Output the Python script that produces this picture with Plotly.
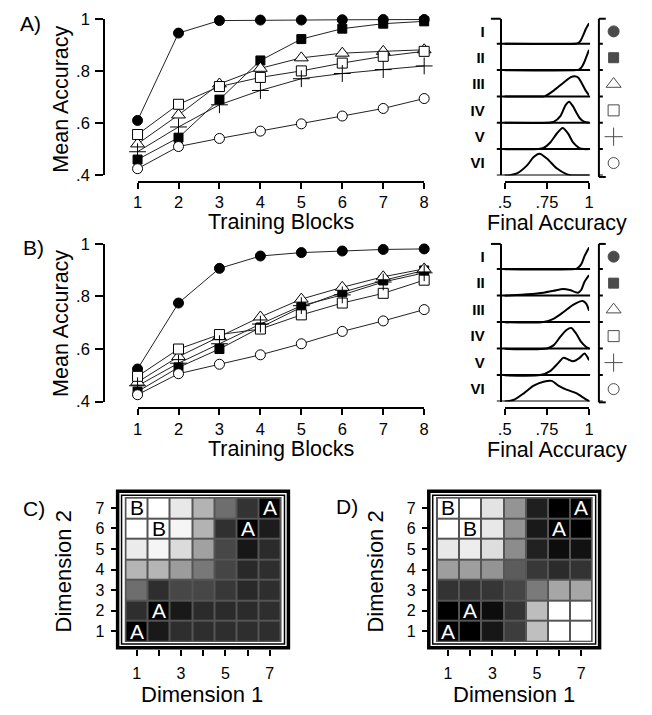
import plotly.graph_objects as go

W, H = 652, 715
def fx(p): return p / W
def fy(p): return 1 - p / H

FONT = "Liberation Sans, Arial, sans-serif"

# ---------------- data ----------------
blocks = [1, 2, 3, 4, 5, 6, 7, 8]
types = ["I", "II", "III", "IV", "V", "VI"]

# Panel A: mean accuracy per training block
accA_I   = [0.61, 0.945, 0.993, 0.995, 0.995, 0.996, 0.997, 0.997]
accA_II  = [0.46, 0.544, 0.69, 0.84, 0.922, 0.962, 0.981, 0.99]
accA_III = [0.52, 0.631, 0.75, 0.81, 0.85, 0.868, 0.875, 0.881]
accA_IV  = [0.556, 0.672, 0.74, 0.775, 0.80, 0.83, 0.856, 0.875]
accA_V   = [0.49, 0.585, 0.67, 0.725, 0.77, 0.79, 0.805, 0.819]
accA_VI  = [0.425, 0.51, 0.541, 0.569, 0.597, 0.627, 0.656, 0.694]

# Panel B
accB_I   = [0.524, 0.775, 0.907, 0.954, 0.967, 0.973, 0.979, 0.981]
accB_II  = [0.438, 0.53, 0.60, 0.682, 0.759, 0.816, 0.861, 0.899]
accB_III = [0.474, 0.571, 0.647, 0.722, 0.79, 0.835, 0.875, 0.905]
accB_IV  = [0.496, 0.60, 0.655, 0.676, 0.73, 0.775, 0.812, 0.862]
accB_V   = [0.46, 0.546, 0.62, 0.695, 0.765, 0.806, 0.855, 0.89]
accB_VI  = [0.426, 0.506, 0.542, 0.578, 0.62, 0.667, 0.707, 0.75]

# Final accuracy densities (x = final accuracy, h = relative density height)
dA_I_x   = [0.455, 0.92, 0.935, 0.95, 0.965, 0.98, 1.0]
dA_I_h   = [0, 0, 0.02, 0.12, 0.32, 0.55, 0.78]
dA_II_x  = [0.455, 0.925, 0.94, 0.955, 0.97, 0.985, 1.0]
dA_II_h  = [0, 0, 0.02, 0.1, 0.28, 0.52, 0.77]
dA_III_x = [0.455, 0.72, 0.74, 0.79, 0.85, 0.895, 0.915, 0.935, 0.955, 0.98, 1.0]
dA_III_h = [0, 0, 0.01, 0.22, 0.53, 0.74, 0.77, 0.72, 0.52, 0.22, 0.04]
dA_IV_x  = [0.455, 0.76, 0.79, 0.83, 0.86, 0.882, 0.905, 0.925, 0.945, 0.97, 1.0]
dA_IV_h  = [0, 0, 0.03, 0.25, 0.66, 0.8, 0.62, 0.38, 0.17, 0.04, 0.0]
dA_V_x   = [0.455, 0.70, 0.73, 0.77, 0.81, 0.843, 0.875, 0.905, 0.94, 0.97, 1.0]
dA_V_h   = [0, 0, 0.04, 0.25, 0.6, 0.8, 0.6, 0.25, 0.05, 0, 0]
dA_VI_x  = [0.455, 0.50, 0.53, 0.576, 0.634, 0.672, 0.707, 0.75, 0.808, 0.866, 0.9, 1.0]
dA_VI_h  = [0, 0, 0.01, 0.09, 0.39, 0.7, 0.82, 0.64, 0.27, 0.05, 0, 0]

dB_I_x   = [0.455, 0.915, 0.93, 0.953, 0.973, 0.99, 1.0]
dB_I_h   = [0, 0, 0.03, 0.18, 0.49, 0.7, 0.82]
dB_II_x  = [0.455, 0.51, 0.634, 0.73, 0.789, 0.847, 0.886, 0.934, 0.953, 0.973, 1.0]
dB_II_h  = [0, 0, 0.05, 0.11, 0.18, 0.25, 0.21, 0.11, 0.21, 0.52, 0.77]
dB_III_x = [0.455, 0.73, 0.789, 0.847, 0.905, 0.963, 0.983, 1.0]
dB_III_h = [0, 0, 0.12, 0.37, 0.65, 0.8, 0.7, 0.43]
dB_IV_x  = [0.455, 0.75, 0.789, 0.828, 0.866, 0.895, 0.924, 0.953, 0.983, 1.0]
dB_IV_h  = [0, 0, 0.12, 0.43, 0.7, 0.78, 0.56, 0.25, 0.06, 0]
dB_V_x   = [0.455, 0.711, 0.769, 0.818, 0.847, 0.876, 0.905, 0.944, 0.973, 1.0]
dB_V_h   = [0, 0, 0.15, 0.46, 0.65, 0.59, 0.52, 0.65, 0.81, 0.56]
dB_VI_x  = [0.455, 0.5, 0.556, 0.615, 0.672, 0.73, 0.779, 0.818, 0.866, 0.924, 0.963, 1.0]
dB_VI_h  = [0, 0, 0.07, 0.32, 0.6, 0.75, 0.78, 0.6, 0.45, 0.32, 0.16, 0.02]

# Panels C / D: probability of category A response, rows from Dimension 2 = 7 down to 1
dims = [1, 2, 3, 4, 5, 6, 7]
pA_C = [
    [0.00, 0.00, 0.09, 0.30, 0.57, 0.80, 1.00],
    [0.00, 0.00, 0.04, 0.30, 0.81, 1.00, 0.89],
    [0.08, 0.04, 0.14, 0.37, 0.72, 0.91, 0.83],
    [0.29, 0.29, 0.39, 0.53, 0.73, 0.84, 0.82],
    [0.57, 0.82, 0.72, 0.72, 0.78, 0.84, 0.82],
    [0.82, 1.00, 0.90, 0.83, 0.83, 0.83, 0.82],
    [1.00, 0.90, 0.82, 0.82, 0.82, 0.82, 0.82],
]
pA_D = [
    [0.00, 0.00, 0.11, 0.42, 0.88, 1.00, 1.00],
    [0.00, 0.00, 0.09, 0.42, 0.90, 1.00, 1.00],
    [0.09, 0.07, 0.13, 0.45, 0.87, 0.95, 0.93],
    [0.38, 0.38, 0.42, 0.64, 0.78, 0.83, 0.80],
    [0.80, 0.80, 0.79, 0.73, 0.52, 0.35, 0.35],
    [1.00, 1.00, 0.95, 0.80, 0.26, 0.00, 0.00],
    [1.00, 1.00, 0.91, 0.76, 0.25, 0.00, 0.00],
]
letters = ["B", "B", "A", "A", "A", "A"]
letter_x = [1, 2, 7, 6, 2, 1]
letter_y = [7, 6, 7, 6, 2, 1]

# ---------------- styles ----------------
sym = {
    "I":   dict(symbol="circle", size=10, color="black", line=dict(color="black", width=1)),
    "II":  dict(symbol="square", size=9, color="black", line=dict(color="black", width=1)),
    "III": dict(symbol="triangle-up", size=12, color="white", line=dict(color="black", width=1)),
    "IV":  dict(symbol="square", size=10, color="white", line=dict(color="black", width=1)),
    "V":   dict(symbol="cross-thin", size=12, color="black", line=dict(color="black", width=1)),
    "VI":  dict(symbol="circle", size=10, color="white", line=dict(color="black", width=1)),
}

fig = go.Figure()

def add_curves(series, xa, ya):
    for t, vals in zip(types, series):
        fig.add_trace(go.Scatter(x=blocks, y=vals, mode="lines",
                                 line=dict(color="#222", width=1),
                                 xaxis=xa, yaxis=ya, hoverinfo="skip"))
    for t, vals in zip(types, series):
        fig.add_trace(go.Scatter(x=blocks, y=vals, mode="markers", marker=sym[t],
                                 cliponaxis=False, name=t, xaxis=xa, yaxis=ya))

add_curves([accA_I, accA_II, accA_III, accA_IV, accA_V, accA_VI], "x", "y")
add_curves([accB_I, accB_II, accB_III, accB_IV, accB_V, accB_VI], "x4", "y3")

def add_dens(dlist, xa, ya, xl):
    n = len(types)
    for i, (t, (dx, dh)) in enumerate(zip(types, dlist)):
        base = n - 1 - i
        fig.add_trace(go.Scatter(x=dx, y=[base + h for h in dh], mode="lines",
                                 line=dict(color="black", width=2, shape="spline", smoothing=0.7),
                                 xaxis=xa, yaxis=ya, hoverinfo="skip"))
    fig.add_trace(go.Scatter(x=[0.5] * n, y=[n - 1 - i + 0.47 for i in range(n)],
                             mode="markers", cliponaxis=False,
                             marker=dict(symbol=[sym[t]["symbol"] for t in types],
                                         size=[s + 1 for s in [sym[t]["size"] for t in types]],
                                         color=[sym[t]["color"] for t in types],
                                         line=dict(color="black", width=1)),
                             xaxis=xl, yaxis=ya))

add_dens([(dA_I_x, dA_I_h), (dA_II_x, dA_II_h), (dA_III_x, dA_III_h),
          (dA_IV_x, dA_IV_h), (dA_V_x, dA_V_h), (dA_VI_x, dA_VI_h)], "x2", "y2", "x3")
add_dens([(dB_I_x, dB_I_h), (dB_II_x, dB_II_h), (dB_III_x, dB_III_h),
          (dB_IV_x, dB_IV_h), (dB_V_x, dB_V_h), (dB_VI_x, dB_VI_h)], "x5", "y4", "x6")

for zz, xa, ya in [(pA_C, "x7", "y5"), (pA_D, "x8", "y6")]:
    fig.add_trace(go.Heatmap(z=zz[::-1], x=dims, y=dims, zmin=0, zmax=1,
                             colorscale=[[0, "#ffffff"], [1, "#000000"]],
                             showscale=False, xgap=2, ygap=2, xaxis=xa, yaxis=ya))

# ---------------- axes ----------------
tf = dict(family=FONT, size=16.5, color="black")
common = dict(showgrid=False, zeroline=False, linecolor="black", linewidth=2,
              tickcolor="black", tickwidth=2, tickfont=tf)

def acc_axes(xn, yn, top, bot, xline):
    fig.layout[xn] = dict(domain=[fx(133), fx(425)], range=[1, 8], anchor="free",
                          position=fy(xline), showline=True, ticks="outside", ticklen=6,
                          tickvals=blocks, **common)
    fig.layout[yn] = dict(domain=[fy(bot), fy(top)], range=[0.4, 1], anchor="free",
                          position=fx(99), showline=True, ticks="outside", ticklen=8,
                          tickvals=[0.4, 0.6, 0.8, 1], ticktext=[".4", ".6", ".8", "1"],
                          ticklabelstandoff=2, **common)

def dens_axes(xn, yn, xln, top, bot, xline):
    n = len(types)
    fig.layout[xn] = dict(domain=[fx(507), fx(593)], range=[0.5, 1], anchor="free",
                          position=fy(xline), showline=True, ticks="outside", ticklen=6,
                          tickvals=[0.5, 0.75, 1], ticktext=[".5", ".75", "1"], **common)
    fig.layout[yn] = dict(domain=[fy(bot), fy(top)], range=[0, 5.95], anchor="free",
                          position=fx(503), showline=True, ticks="",
                          tickvals=[n - 1 - i + 0.47 for i in range(n)],
                          ticktext=["<b>%s</b>" % t for t in types],
                          ticklabelstandoff=12,
                          **dict(common, tickfont=dict(family=FONT, size=15, color="black")))
    fig.layout[xln] = dict(domain=[fx(610), fx(626)], range=[0, 1], visible=False,
                           anchor=yn.replace("axis", ""))

acc_axes("xaxis", "yaxis", 10, 170.5, 177)
dens_axes("xaxis2", "yaxis2", "xaxis3", 10, 170.7, 177)
acc_axes("xaxis4", "yaxis3", 241, 402.7, 409)
dens_axes("xaxis5", "yaxis4", "xaxis6", 241, 402.7, 409)

def grid_axes(xn, yn, x0, x1, yax):
    gf = dict(family=FONT, size=16, color="black")
    fig.layout[xn] = dict(domain=[fx(x0), fx(x1)], range=[0.5, 7.5], anchor="free",
                          position=fy(657), showline=False, ticks="outside", ticklen=6,
                          tickvals=dims, ticktext=["1", "", "3", "", "5", "", "7"],
                          ticklabelstandoff=3,
                          **dict(common, tickwidth=1.5, tickfont=gf))
    fig.layout[yn] = dict(domain=[fy(648.7), fy(501.3)], range=[0.5, 7.5], anchor="free",
                          position=fx(yax), showline=False, ticks="outside", ticklen=7,
                          tickvals=dims, ticklabelstandoff=3,
                          **dict(common, tickwidth=1.5, tickfont=gf))

grid_axes("xaxis7", "yaxis5", 120.7, 279.0, 112.7)
grid_axes("xaxis8", "yaxis6", 438.0, 596.3, 429.7)

# ---------------- shapes ----------------
shapes = []
def pline(x0, y0, x1, y1, w=2, yref="paper"):
    shapes.append(dict(type="line", xref="paper", yref=yref, x0=fx(x0), x1=fx(x1),
                       y0=fy(y0) if yref == "paper" else y0,
                       y1=fy(y1) if yref == "paper" else y1,
                       line=dict(color="black", width=w)))

for yref, top, bot in [("y2", 10, 172.3), ("y4", 241, 403.5)]:
    n = len(types)
    for i in range(n):
        b = n - 1 - i
        pline(499, b, 594, b, 2, yref)
        pline(603, b, 607, b, 2, yref)
    pline(493, top, 503, top)
    pline(603, top, 603, bot)
    pline(603, top, 610, top)
    pline(603, bot, 610, bot)

def pbox(x0, y0, x1, y1, w, fill=None, layer="above"):
    d = dict(type="rect", xref="paper", yref="paper", x0=fx(x0), x1=fx(x1),
             y0=fy(y1), y1=fy(y0), layer=layer)
    if fill:
        d.update(fillcolor=fill, line=dict(width=0))
    else:
        d.update(line=dict(color="black", width=w))
    shapes.append(d)

for ox in [0, 317.0]:
    pbox(120.0 + ox, 500.7, 279.7 + ox, 649.3, 0, fill="#555555", layer="below")
    pbox(116.7 + ox, 498.7, 282.7 + ox, 651.3, 1.5)
    pbox(112.7 + ox, 494.7, 286.7 + ox, 655.3, 3.5)
fig.update_layout(shapes=shapes)

# ---------------- text ----------------
ann = []
def text(s, x, y, size=21.5, angle=0, **kw):
    ann.append(dict(text=s, x=fx(x), y=fy(y), xref="paper", yref="paper", showarrow=False,
                    xanchor="center", yanchor="middle", textangle=angle,
                    font=dict(family=FONT, size=size, color="black"), **kw))

text("A)", 24, 15, 21)
text("B)", 27, 245, 21)
text("C)", 28, 512, 21)
text("D)", 346, 510, 21)
text("Mean Accuracy", 55, 92, 21.5, -90)
text("Mean Accuracy", 55, 322, 21.5, -90)
text("Training Blocks", 279, 219)
text("Training Blocks", 279, 451)
text("Final Accuracy", 560, 220)
text("Final Accuracy", 560, 452)
text("Dimension 1", 199, 703, 22)
text("Dimension 1", 517, 703, 22)
text("Dimension 2", 58, 577, 22, -90)
text("Dimension 2", 375, 577, 22, -90)

for xa, ya in [("x7", "y5"), ("x8", "y6")]:
    for L, lx, ly in zip(letters, letter_x, letter_y):
        ann.append(dict(text=L, x=lx, y=ly, xref=xa, yref=ya, showarrow=False,
                        font=dict(family=FONT, size=21,
                                  color="white" if L == "A" else "black")))
fig.update_layout(annotations=ann)

fig.update_layout(width=W, height=H, margin=dict(l=0, r=0, t=0, b=0),
                  paper_bgcolor="white", plot_bgcolor="white", showlegend=False,
                  font=dict(family=FONT, color="black"))

fig.write_html("out.html", config={"displayModeBar": False},
               post_script="document.body.style.margin='0px';document.body.style.overflow='hidden';")
